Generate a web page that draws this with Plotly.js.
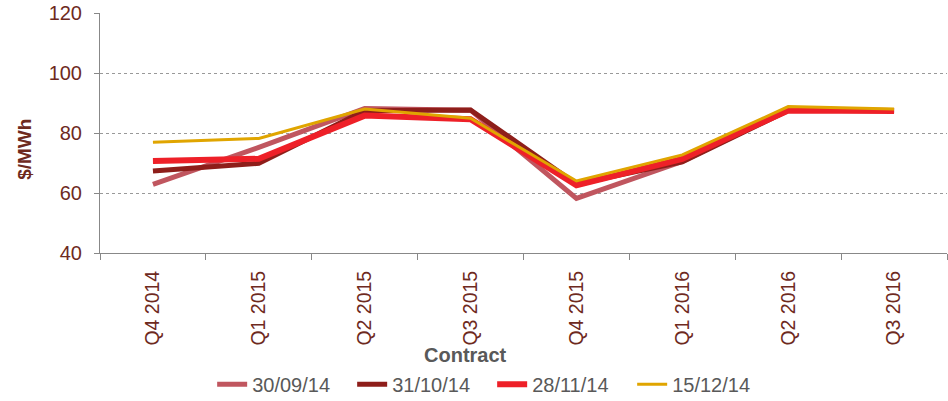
<!DOCTYPE html>
<html>
<head>
<meta charset="utf-8">
<script src="https://cdn.plot.ly/plotly-3.0.1.min.js"></script>
<style>html,body{margin:0;padding:0;background:#fff;}#chart{width:948px;height:401px;}</style>
</head>
<body>
<div id="chart"></div>
<script>
var contracts = ["Q4 2014","Q1 2015","Q2 2015","Q3 2015","Q4 2015","Q1 2016","Q2 2016","Q3 2016"];
var s_300914 = [62.9, 75.2, 88.2, 87.6, 58.2, 70.5, 87.8, 87.5];
var s_311014 = [67.3, 69.9, 87.4, 87.7, 63.0, 70.4, 87.5, 87.5];
var s_281114 = [70.7, 71.4, 85.8, 84.6, 62.6, 71.4, 87.5, 87.3];
var s_151214 = [76.9, 78.2, 88.0, 84.9, 64.0, 72.7, 88.8, 88.0];
var seriesNames = ["30/09/14","31/10/14","28/11/14","15/12/14"];
var titleText = "NSW Swap Price (Base Load Contracts)";
var xTitle = "Contract";
var yTitle = "$/MWh";

var colors = ["#C0565F","#8E1E1A","#EE2028","#E0A500"];
var widths = [5, 5, 6, 3];
var data = [s_300914, s_311014, s_281114, s_151214].map(function(v, i){
  return {x: contracts, y: v, type: "scatter", mode: "lines", name: seriesNames[i],
          line: {color: colors[i], width: widths[i]}};
});

var brown = "#6E2A1E";
var layout = {
  width: 948, height: 401,
  margin: {l: 100, r: 1, t: 13, b: 148},
  paper_bgcolor: "#fff", plot_bgcolor: "#fff",
  font: {family: "Liberation Sans, Arial, sans-serif"},
  showlegend: true,
  legend: {orientation: "h", x: 0.463, xanchor: "center",
           yref: "container", y: 0.042, yanchor: "middle",
           font: {size: 20, color: "#595959"}, itemwidth: 30, tracegroupgap: 0,
           entrywidth: 95, entrywidthmode: "pixels"},
  xaxis: {
    type: "category", range: [-0.5, 7.5], tickangle: -90, tickson: "boundaries",
    ticks: "outside", ticklen: 6, tickcolor: "#888", tickwidth: 1,
    showline: true, linecolor: "#888", linewidth: 1, showgrid: false,
    tickfont: {size: 19.5, color: brown}, automargin: false, ticklabelstandoff: 9,
    fixedrange: true
  },
  yaxis: {
    range: [40, 120], dtick: 20, tickmode: "linear", automargin: false,
    ticks: "outside", ticklen: 5, tickcolor: "#888",
    showline: true, linecolor: "#888", linewidth: 1,
    showgrid: true, gridcolor: "#999", griddash: "dot", gridwidth: 1,
    zeroline: false, ticklabelstandoff: 8,
    tickfont: {size: 20, color: brown},
    fixedrange: true
  },
  annotations: [
    {text: "<b>" + yTitle + "</b>", xref: "paper", yref: "paper", x: 0, y: 0.43,
     xanchor: "center", yanchor: "middle", xshift: -75, textangle: -90,
     showarrow: false, font: {size: 19, color: brown}},
    {text: "<b>" + xTitle + "</b>", xref: "paper", yref: "paper", x: 0.431, y: 0,
     xanchor: "center", yanchor: "middle", yshift: -102,
     showarrow: false, font: {size: 20, color: "#595959"}},
    {text: "<b>" + titleText + "</b>", xref: "paper", yref: "paper", x: 0.5, y: 1,
     xanchor: "center", yanchor: "bottom", yshift: 13,
     showarrow: false, font: {size: 22, color: "#EE2028"}}
  ]
};
Plotly.newPlot("chart", data, layout, {displayModeBar: false, staticPlot: true});
</script>
</body>
</html>
